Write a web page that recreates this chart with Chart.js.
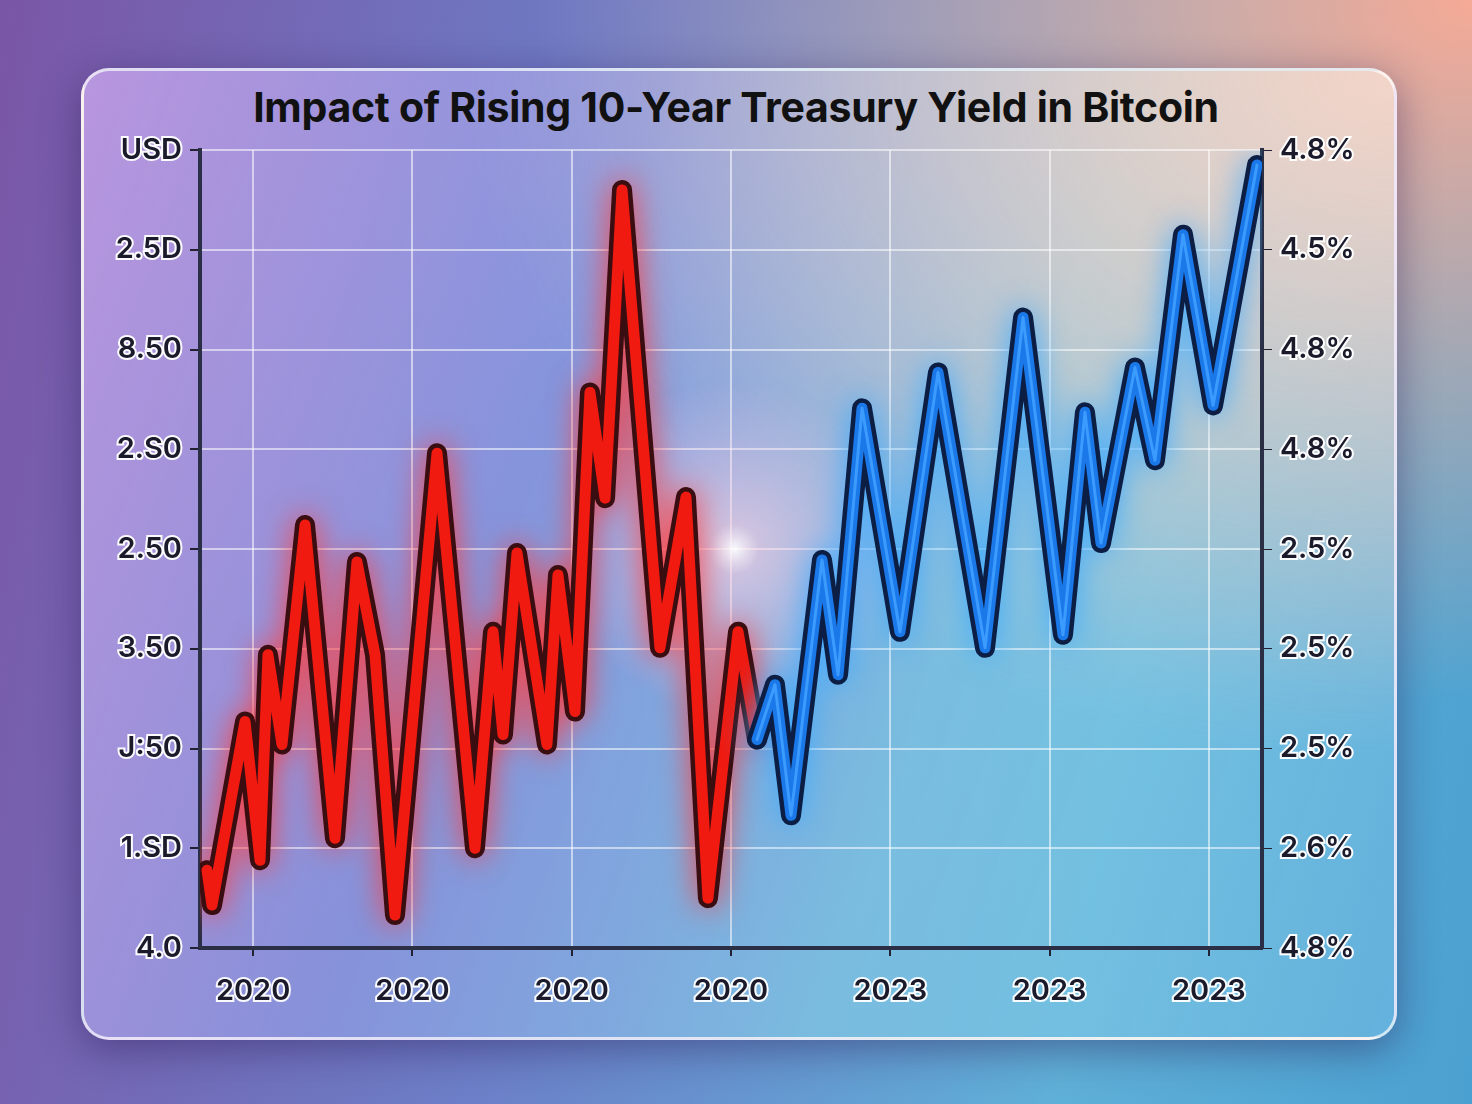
<!DOCTYPE html>
<html><head><meta charset="utf-8">
<script src="https://cdn.jsdelivr.net/npm/chart.js@4/dist/chart.umd.min.js"></script>
<style>
html,body{margin:0;width:1472px;height:1104px;overflow:hidden;font-family:Inter,"Noto Sans",sans-serif;
background:radial-gradient(ellipse at 100% 0%,rgba(245,170,150,1) 0%,rgba(245,170,150,0) 45%),
linear-gradient(100deg,#7a56a6 0%,#6c7fc8 40%,#5fb0d8 75%,#4aa0d0 100%);}
#card{position:absolute;left:81px;top:68px;width:1310px;height:966px;border-radius:28px;
background:radial-gradient(ellipse at 100% 0%,rgba(250,215,200,.9) 0%,rgba(250,215,200,0) 50%),
linear-gradient(110deg,rgba(200,165,235,.8) 0%,rgba(150,165,235,.6) 35%,rgba(140,215,235,.55) 65%,rgba(120,190,230,.5) 100%);
border:3px solid rgba(255,255,255,.7);box-shadow:0 10px 40px rgba(40,20,80,.45);}
#title{position:absolute;left:0;width:1472px;top:82px;text-align:center;font-weight:700;font-size:41px;color:#111;letter-spacing:-0.3px}
canvas{position:absolute;left:0;top:0}
</style></head><body>
<div id="card"></div>
<div id="title">Impact of Rising 10-Year Treasury Yield in Bitcoin</div>
<canvas id="c" width="1472" height="1104"></canvas>
<script>
const xTickPositions=[5,20,35,50,65,80,95];
const xTickLabels=["2020","2020","2020","2020","2023","2023","2023"];
const leftLabels=["4.0","1.SD","J:50","3.50","2.50","2.S0","8.50","2.5D","USD"];
const rightLabels=["4.8%","2.6%","2.5%","2.5%","2.5%","4.8%","4.8%","4.5%","4.8%"];
const redX=[0.66,1.13,4.24,5.65,6.40,7.72,9.89,12.71,14.78,16.48,18.36,22.32,25.89,27.59,28.53,29.85,32.67,33.71,35.31,36.72,38.14,39.74,43.31,45.76,47.83,50.66,52.45];
const redY=[0.78,0.43,2.27,0.88,2.94,2.04,4.24,1.10,3.87,2.94,0.33,4.96,1.00,3.17,2.14,3.96,2.04,3.74,2.37,5.57,4.51,7.60,3.01,4.52,0.50,3.17,2.09];
const blueX=[52.45,54.14,55.65,58.57,60.08,62.34,65.91,69.49,73.92,77.50,81.26,83.33,84.84,88.04,89.92,92.56,95.39,99.53];
const blueY=[2.09,2.64,1.33,3.89,2.74,5.41,3.17,5.77,3.01,6.32,3.14,5.37,4.06,5.82,4.89,7.15,5.44,7.85];
const pts=(xs,ys)=>xs.map((x,i)=>({x,y:ys[i]}));
function ds(data,color,w,order,glow){return {data,borderColor:color,borderWidth:w,pointRadius:0,tension:0,
 borderJoinStyle:'round',borderCapStyle:'round',order,glow,yAxisID:'y',xAxisID:'x'};}
const glowPlugin={id:'glow',
 beforeDatasetDraw(c,a){const g=c.data.datasets[a.index].glow;c.ctx.save();if(g){c.ctx.shadowColor=g;c.ctx.shadowBlur=30;}},
 afterDatasetDraw(c){c.ctx.restore();},
 beforeDatasetsDraw(c){const {ctx,scales}=c;const x=scales.x.getPixelForValue(50.3),y=scales.y.getPixelForValue(4.0);
  ctx.save();const g=ctx.createRadialGradient(x,y,0,x,y,170);g.addColorStop(0,'rgba(255,255,255,0.95)');g.addColorStop(0.15,'rgba(255,210,225,0.6)');g.addColorStop(1,'rgba(255,200,230,0)');
  ctx.fillStyle=g;ctx.beginPath();ctx.arc(x,y,170,0,Math.PI*2);ctx.fill();ctx.restore();}};
const tickFont={size:29,weight:'600',family:'Inter'};
const tk={font:tickFont,color:'#1a1a2a',textStrokeColor:'rgba(255,255,255,0.95)',textStrokeWidth:4};
new Chart(document.getElementById('c'),{type:'line',
 data:{datasets:[
  ds(pts(redX,redY),'#3a0d10',20,5,'rgba(255,60,60,0.9)'),
  ds(pts(redX,redY),'#f01a10',11,4,null),
  ds(pts(blueX,blueY),'#0d1e45',20,3,'rgba(60,170,255,0.9)'),
  ds(pts(blueX,blueY),'#1a78e8',11,2,null),
  ds(pts(blueX,blueY),'#3b9bff',3,1,null)]},
 options:{responsive:false,animation:false,layout:{padding:{top:150,left:0,right:0,bottom:0}},
  plugins:{legend:{display:false},tooltip:{enabled:false}},
  scales:{
   x:{type:'linear',min:0,max:100,
    afterBuildTicks(s){s.ticks=xTickPositions.map(v=>({value:v}));},
    afterFit(s){s.height=156;},
    ticks:{...tk,callback:(v,i)=>xTickLabels[i],padding:18,maxRotation:0,autoSkip:false},
    grid:{color:'rgba(255,255,255,0.55)',lineWidth:2,tickLength:8,tickColor:'#223'},border:{color:'#2a2f45',width:4}},
   y:{position:'left',min:0,max:8,afterFit(s){s.width=200;},
    ticks:{...tk,stepSize:1,callback:(v)=>leftLabels[v],padding:8},
    grid:{color:'rgba(255,255,255,0.55)',lineWidth:2,tickLength:10,tickColor:'#223'},border:{color:'#2a2f45',width:4}},
   y2:{position:'right',min:0,max:8,afterFit(s){s.width=210;},
    ticks:{...tk,stepSize:1,callback:(v)=>rightLabels[v],padding:8},
    grid:{drawOnChartArea:false,tickLength:10,tickColor:'#223'},border:{color:'#2a2f45',width:4}}}},
 plugins:[glowPlugin]});
</script></body></html>
